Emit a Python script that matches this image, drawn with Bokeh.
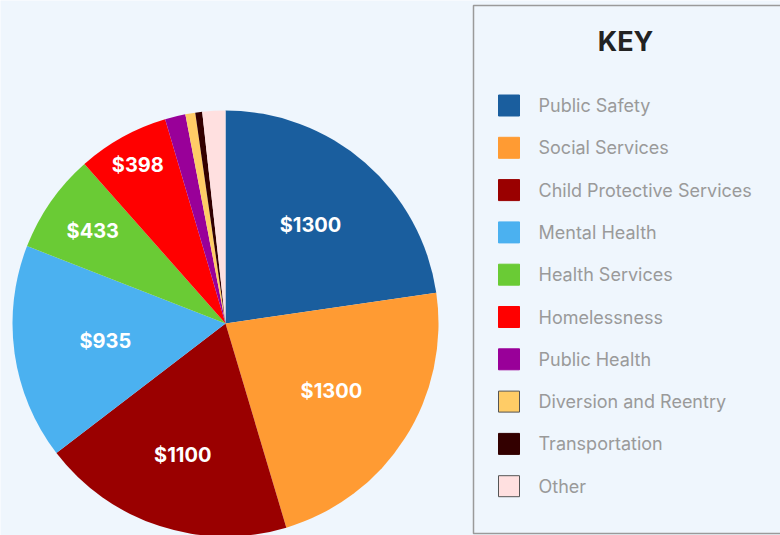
import math
from bokeh.plotting import figure
from bokeh.models import Range1d, ColumnDataSource
from bokeh.core.properties import value
from bokeh.embed import file_html
from bokeh.resources import INLINE

# ---- data ----
categories = ["Public Safety", "Social Services", "Child Protective Services",
              "Mental Health", "Health Services", "Homelessness", "Public Health",
              "Diversion and Reentry", "Transportation", "Other"]
amounts = [1300, 1300, 1100, 935, 433, 398, 89, 43, 30, 100]
labels = ["$1300", "$1300", "$1100", "$935", "$433", "$398", "", "", "", ""]
colors = ["#1A5E9E", "#FF9B33", "#9A0000", "#4BB1F0", "#6ACB35", "#FF0000",
          "#990099", "#FFCC66", "#330000", "#FFE0E0"]
legend_borders = [None, None, None, None, None, None, None, "#555555", None, "#555555"]
label_radius_frac = [0.61, 0.59, 0.65, 0.57, 0.76, 0.85, 0.6, 0.6, 0.6, 0.6]

BG = "#EFF6FD"
W, H = 780, 535
# screen -> data: x = sx, y = 535 - sy
cx, cy, R = 225, 212, 213

p = figure(width=W, height=H, output_backend="svg", toolbar_location=None,
           x_range=Range1d(0, W), y_range=Range1d(0, H),
           x_axis_location=None, y_axis_location=None, min_border=0)
p.grid.visible = False
p.outline_line_color = None
p.background_fill_color = BG
p.border_fill_color = BG

total = sum(amounts)
starts, ends, lx, ly = [], [], [], []
cum = 0.0
for a, rf in zip(amounts, label_radius_frac):
    f0 = cum / total
    cum += a
    f1 = cum / total
    # clockwise from 12 o'clock
    starts.append(math.pi / 2 - f1 * 2 * math.pi)
    ends.append(math.pi / 2 - f0 * 2 * math.pi)
    mid = (f0 + f1) / 2 * 2 * math.pi
    lx.append(cx + math.sin(mid) * R * rf)
    ly.append(cy + math.cos(mid) * R * rf)

src = ColumnDataSource(dict(start=starts, end=ends, color=colors, lx=lx, ly=ly, label=labels))
p.wedge(x=cx, y=cy, radius=R, start_angle="start", end_angle="end",
        fill_color="color", line_color=None, source=src)
p.text(x="lx", y="ly", text="label", source=src, text_color="white",
       text_font=value("Inter"), text_font_style="bold", text_font_size="20px",
       text_align="center", text_baseline="middle")

# ---- legend box ----
p.quad(left=473, right=810, bottom=535 - 533, top=535 - 5, fill_color=BG,
       line_color="#9A9A9A", line_width=1.5)
p.text(x=[625], y=[535 - 41], text=["KEY"], text_color="#222222",
       text_font=value("Inter"), text_font_style="bold", text_font_size="27px",
       text_align="center", text_baseline="middle")

n = len(categories)
item_y = [535 - (105 + i * 42.3) for i in range(n)]
lc = [b if b else c for b, c in zip(legend_borders, colors)]
p.rect(x=[508.5] * n, y=item_y, width=21, height=21, fill_color=colors,
       line_color=lc, line_width=1)
p.text(x=[538] * n, y=item_y, text=categories, text_color="#9A9A9A",
       text_font=value("Inter"), text_font_size="18px",
       text_align="left", text_baseline="middle")

html = file_html(p, INLINE)
html = html.replace("<body>", '<body style="background:%s;">' % BG, 1)
open("out.html", "w").write(html)
